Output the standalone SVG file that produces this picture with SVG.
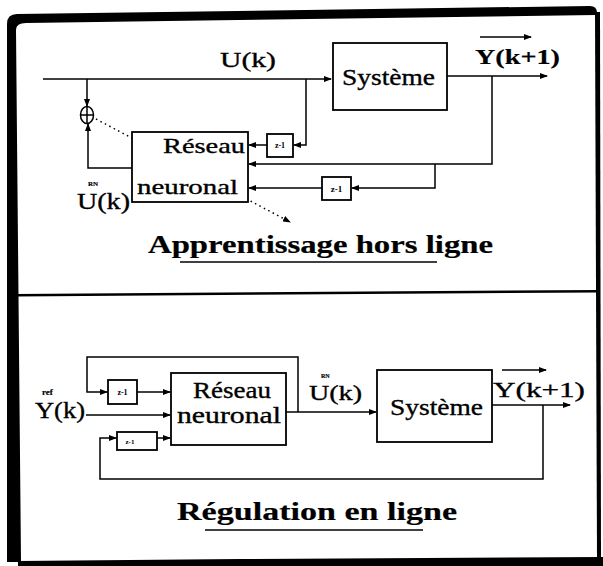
<svg xmlns="http://www.w3.org/2000/svg" width="603" height="566" viewBox="0 0 603 566">
<defs>
<marker id="ah" markerWidth="8" markerHeight="6" refX="7" refY="3" orient="auto" markerUnits="userSpaceOnUse">
<path d="M0,0 L8,3 L0,6 z" fill="#000"/>
</marker>
<style>
.bx{fill:#fff;stroke:#000;stroke-width:1.8}
.ln{fill:none;stroke:#000;stroke-width:1.5}
.t{font-family:"Liberation Serif","DejaVu Serif",serif;fill:#000;stroke:#000;stroke-width:0.35}
.b{font-weight:bold;stroke-width:0.2}
.z{font-family:"Liberation Serif","DejaVu Serif",serif;font-weight:bold;fill:#000;text-anchor:middle}
.frame{fill:#000}
</style>
</defs>
<rect width="603" height="566" fill="#fff"/>

<g id="frame">
<path class="frame" d="M7,562 L7,24 Q7,14 17,14 L590,6 Q597,6 597,13 L596,15 L26,23 Q16,23 16,30 L21,562 z"/>
<path class="frame" d="M595,12 L600,12 L601,558 L597,558 z"/>
<path class="frame" d="M18,561 L240,559 L603,557 L603,566 L18,566 z"/>
<path class="frame" d="M16,294 L599,290 L599,292.5 L16,296.5 z"/>
</g>

<g id="connectors">
<!-- upper -->
<path class="ln" d="M43,79 L331,79" marker-end="url(#ah)"/>
<path class="ln" d="M87,79 L87,106" marker-end="url(#ah)"/>
<path class="ln" d="M132,168 L88,168 L88,124" marker-end="url(#ah)"/>
<path class="ln" d="M96,119 L290,222" stroke-dasharray="1.5,3.5" marker-end="url(#ah)"/>
<path class="ln" d="M306,79 L306,145 L294,145" marker-end="url(#ah)"/>
<path class="ln" d="M267,145 L249,145" marker-end="url(#ah)"/>
<path class="ln" d="M447,76 L547,76" marker-end="url(#ah)"/>
<path class="ln" d="M492,76 L492,164 L249,164" marker-end="url(#ah)"/>
<path class="ln" d="M435,164 L435,188 L352,188" marker-end="url(#ah)"/>
<path class="ln" d="M322,188 L249,188" marker-end="url(#ah)"/>
<path class="ln" d="M480,37 L531,37" marker-end="url(#ah)"/>
<line class="ln" x1="180" y1="262" x2="437" y2="262" stroke-width="2"/>
<!-- lower -->
<path class="ln" d="M86,415 L170,415" marker-end="url(#ah)"/>
<path class="ln" d="M298,412 L298,357 L87,357 L87,392 L107,392" marker-end="url(#ah)"/>
<path class="ln" d="M137,392 L170,392" marker-end="url(#ah)"/>
<path class="ln" d="M286,412 L376,412" marker-end="url(#ah)"/>
<path class="ln" d="M492,405 L570,405" marker-end="url(#ah)"/>
<path class="ln" d="M543,405 L543,479 L100,479 L100,438 L116,438" marker-end="url(#ah)"/>
<path class="ln" d="M157,438 L170,438" marker-end="url(#ah)"/>
<path class="ln" d="M502,370 L546,370" marker-end="url(#ah)"/>
<line class="ln" x1="205" y1="530" x2="423" y2="530" stroke-width="2"/>
</g>

<g id="sum1">
<ellipse cx="87" cy="115" rx="6.5" ry="8.5" fill="#fff" stroke="#000" stroke-width="1.5"/>
<path class="ln" d="M80.5,115 L93.5,115 M87,106.5 L87,123.5"/>
</g>

<g id="systeme1">
<rect class="bx" x="333" y="43" width="114" height="67"/>
<text class="t" x="342" y="85" font-size="24" textLength="93" lengthAdjust="spacingAndGlyphs">Système</text>
</g>

<g id="reseau1">
<rect class="bx" x="132" y="132" width="116" height="70"/>
<text class="t" x="163" y="153" font-size="22" textLength="82" lengthAdjust="spacingAndGlyphs">Réseau</text>
<text class="t" x="137" y="194" font-size="22" textLength="101" lengthAdjust="spacingAndGlyphs">neuronal</text>
</g>

<g id="delay1">
<rect class="bx" x="267" y="134" width="26" height="23"/>
<text class="z" x="280" y="148" font-size="8">z-1</text>
</g>

<g id="delay2">
<rect class="bx" x="322" y="177" width="29" height="23"/>
<text class="z" x="336.5" y="192" font-size="9">z-1</text>
</g>

<g id="labels1">
<text class="t" x="220" y="67" font-size="22" textLength="56" lengthAdjust="spacingAndGlyphs">U(k)</text>
<text class="t b" x="475" y="64" font-size="21" textLength="85" lengthAdjust="spacingAndGlyphs">Y(k+1)</text>
<text class="t" x="77" y="209" font-size="23" textLength="53" lengthAdjust="spacingAndGlyphs">U(k)</text>
<text class="t b" x="88" y="185.5" font-size="7">RN</text>
<text class="t b" x="148" y="253" font-size="26" textLength="345" lengthAdjust="spacingAndGlyphs">Apprentissage hors ligne</text>
</g>

<g id="reseau2">
<rect class="bx" x="171" y="373" width="115" height="72"/>
<text class="t" x="193" y="398" font-size="23" textLength="78" lengthAdjust="spacingAndGlyphs">Réseau</text>
<text class="t" x="177" y="423" font-size="23" textLength="104" lengthAdjust="spacingAndGlyphs">neuronal</text>
</g>

<g id="systeme2">
<rect class="bx" x="377" y="370" width="115" height="72"/>
<text class="t" x="390" y="415" font-size="24" textLength="93" lengthAdjust="spacingAndGlyphs">Système</text>
</g>

<g id="delay3">
<rect class="bx" x="108" y="380" width="29" height="24"/>
<text class="z" x="122.5" y="395" font-size="8">z-1</text>
</g>

<g id="delay4">
<rect class="bx" x="117" y="432" width="40" height="18"/>
<text class="z" x="130" y="444" font-size="7">z-1</text>
</g>

<g id="labels2">
<text class="t b" x="42" y="395" font-size="9">ref</text>
<text class="t" x="35" y="418" font-size="23" textLength="50" lengthAdjust="spacingAndGlyphs">Y(k)</text>
<text class="t b" x="321" y="378" font-size="6">RN</text>
<text class="t" x="309" y="400" font-size="22" textLength="53" lengthAdjust="spacingAndGlyphs">U(k)</text>
<text class="t" x="493" y="397" font-size="22" textLength="92" lengthAdjust="spacingAndGlyphs">Y(k+1)</text>
<text class="t b" x="177" y="520" font-size="26" textLength="280" lengthAdjust="spacingAndGlyphs">Régulation en ligne</text>
</g>
</svg>
